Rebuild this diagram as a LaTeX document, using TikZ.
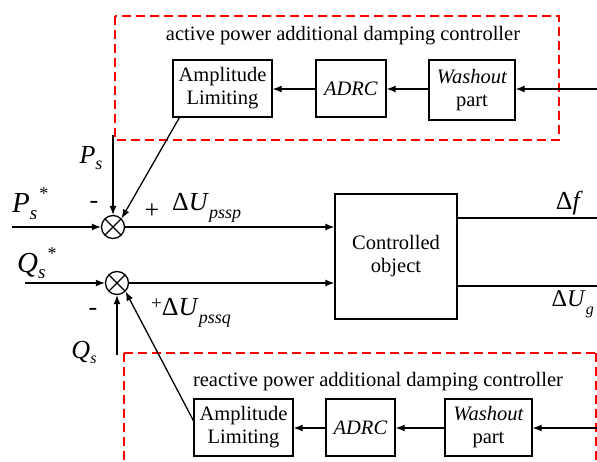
\documentclass[tikz,border=0pt]{standalone}
\usepackage{amsmath}
\usepackage{fontspec}
\setmainfont{Liberation Serif}
\usetikzlibrary{arrows.meta,calc}

\begin{document}
\begin{tikzpicture}[x=1pt,y=-1pt,
  block/.style={draw,line width=1.3pt,align=center,inner sep=0pt,
    font=\fontsize{20.5}{23}\selectfont},
  sumjunction/.style={draw,circle,line width=1.3pt,minimum size=23pt,inner sep=0pt,
    path picture={\draw[line width=1.3pt] (path picture bounding box.north west) -- (path picture bounding box.south east)
      (path picture bounding box.north east) -- (path picture bounding box.south west);}},
  frame/.style={red,line width=1.4pt,dash pattern=on 9pt off 5pt},
  arr/.style={line width=1.3pt,-{Latex[length=9pt,width=7pt]}},
  wire/.style={line width=1.3pt},
  bigtxt/.style={font=\fontsize{29}{31}\selectfont,inner sep=0pt},
  midtxt/.style={font=\fontsize{26}{28}\selectfont,inner sep=0pt}]
\useasboundingbox (0,0) rectangle (597,462);

% dashed frames
\draw[frame] (115,16) rectangle (559,140);
\draw[frame] (124,353) -- (596,353) (124,353) -- (124,470) (596,353) -- (596,470);
\node[font=\fontsize{20.5}{23}\selectfont] (title1) at (343,36) {active power additional damping controller};
\node[font=\fontsize{20.5}{23}\selectfont] (title2) at (378,382) {reactive power additional damping controller};

% upper branch
\node[block,minimum width=99pt,minimum height=57pt] (amp1) at (222.5,88.5) {Amplitude\\Limiting};
\node[block,minimum width=70pt,minimum height=57pt] (adrc1) at (351,88.5) {\textit{ADRC}};
\node[block,minimum width=86pt,minimum height=60pt] (wash1) at (472,90) {\textit{Washout}\\part};
\coordinate (in1) at (597,89);
\draw[arr] (in1) -- (wash1.east |- in1);
\draw[arr] (wash1.west |- in1) -- (adrc1.east |- in1);
\draw[arr] (adrc1.west |- in1) -- (amp1.east |- in1);

% lower branch
\node[block,minimum width=99pt,minimum height=57pt] (amp2) at (243.5,427.5) {Amplitude\\Limiting};
\node[block,minimum width=69pt,minimum height=57pt] (adrc2) at (360.5,427.5) {\textit{ADRC}};
\node[block,minimum width=87pt,minimum height=57pt] (wash2) at (488.5,427.5) {\textit{Washout}\\part};
\coordinate (in2) at (597,428);
\draw[arr] (in2) -- (wash2.east |- in2);
\draw[arr] (wash2.west |- in2) -- (adrc2.east |- in2);
\draw[arr] (adrc2.west |- in2) -- (amp2.east |- in2);

% summing points and plant
\node[sumjunction] (sum1) at (113,227) {};
\node[sumjunction] (sum2) at (117,283) {};
\node[block,minimum width=122pt,minimum height=125pt] (plant) at (396,256.5) {Controlled\\object};

\coordinate (ps) at (113,135);
\coordinate (psref) at (12,227);
\coordinate (qs) at (117,355);
\coordinate (qsref) at (25,283);
\draw[arr] (ps) -- (sum1.north);
\draw[arr] (psref) -- (sum1.west);
\draw[arr] ($(amp1.south west)+(7,0)$) -- (sum1.north east);
\draw[arr] (sum1.east) -- (sum1 -| plant.west);
\draw[arr] (qsref) -- (sum2.west);
\draw[arr] (qs) -- (sum2.south);
\draw[arr] ($(amp2.west)+(0,-7)$) -- (sum2.south east);
\draw[arr] (sum2.east) -- (sum2 -| plant.west);

% outputs
\coordinate (out1) at (597,218);
\coordinate (out2) at (597,286);
\draw[wire] (out1 -| plant.east) -- (out1);
\draw[wire] (out2 -| plant.east) -- (out2);

% labels
\node[midtxt] (lps) at (91,158) {\textit{P}\raisebox{-6pt}{\fontsize{18}{18}\selectfont\textit{s}}};
\node[bigtxt,anchor=west] (lpsref) at (12,204) {\textit{P}\raisebox{-7pt}{\fontsize{19}{19}\selectfont\textit{s}}\hspace{2pt}\raisebox{13pt}{\fontsize{18}{18}\selectfont *}};
\node[midtxt] (m1) at (94,205) {-};
\node[midtxt] (p1) at (152,211) {+};
\node[midtxt,anchor=west] (du1) at (172,208) {Δ\textit{U}\raisebox{-8pt}{\fontsize{18}{18}\selectfont\textit{pssp}}};
\node[bigtxt,anchor=west] (lqsref) at (17,263) {\textit{Q}\raisebox{-6pt}{\fontsize{19}{19}\selectfont\textit{s}}\hspace{2pt}\raisebox{13pt}{\fontsize{18}{18}\selectfont *}};
\node[midtxt] (m2) at (93,312) {-};
\node[midtxt,anchor=west] (du2) at (151,313) {\raisebox{6pt}{\fontsize{19}{19}\selectfont +}Δ\textit{U}\raisebox{-8pt}{\fontsize{18}{18}\selectfont\textit{pssq}}};
\node[midtxt] (lqs) at (84,352) {\textit{Q}\raisebox{-5pt}{\fontsize{16}{16}\selectfont\textit{s}}};
\node[midtxt,anchor=east] (df) at (583,203) {Δ\textit{f}};
\node[font=\fontsize{24}{26}\selectfont,inner sep=0pt,anchor=east] (dug) at (594,304) {Δ\textit{U}\raisebox{-8pt}{\fontsize{16}{16}\selectfont\textit{g}}};
\end{tikzpicture}
\end{document}
